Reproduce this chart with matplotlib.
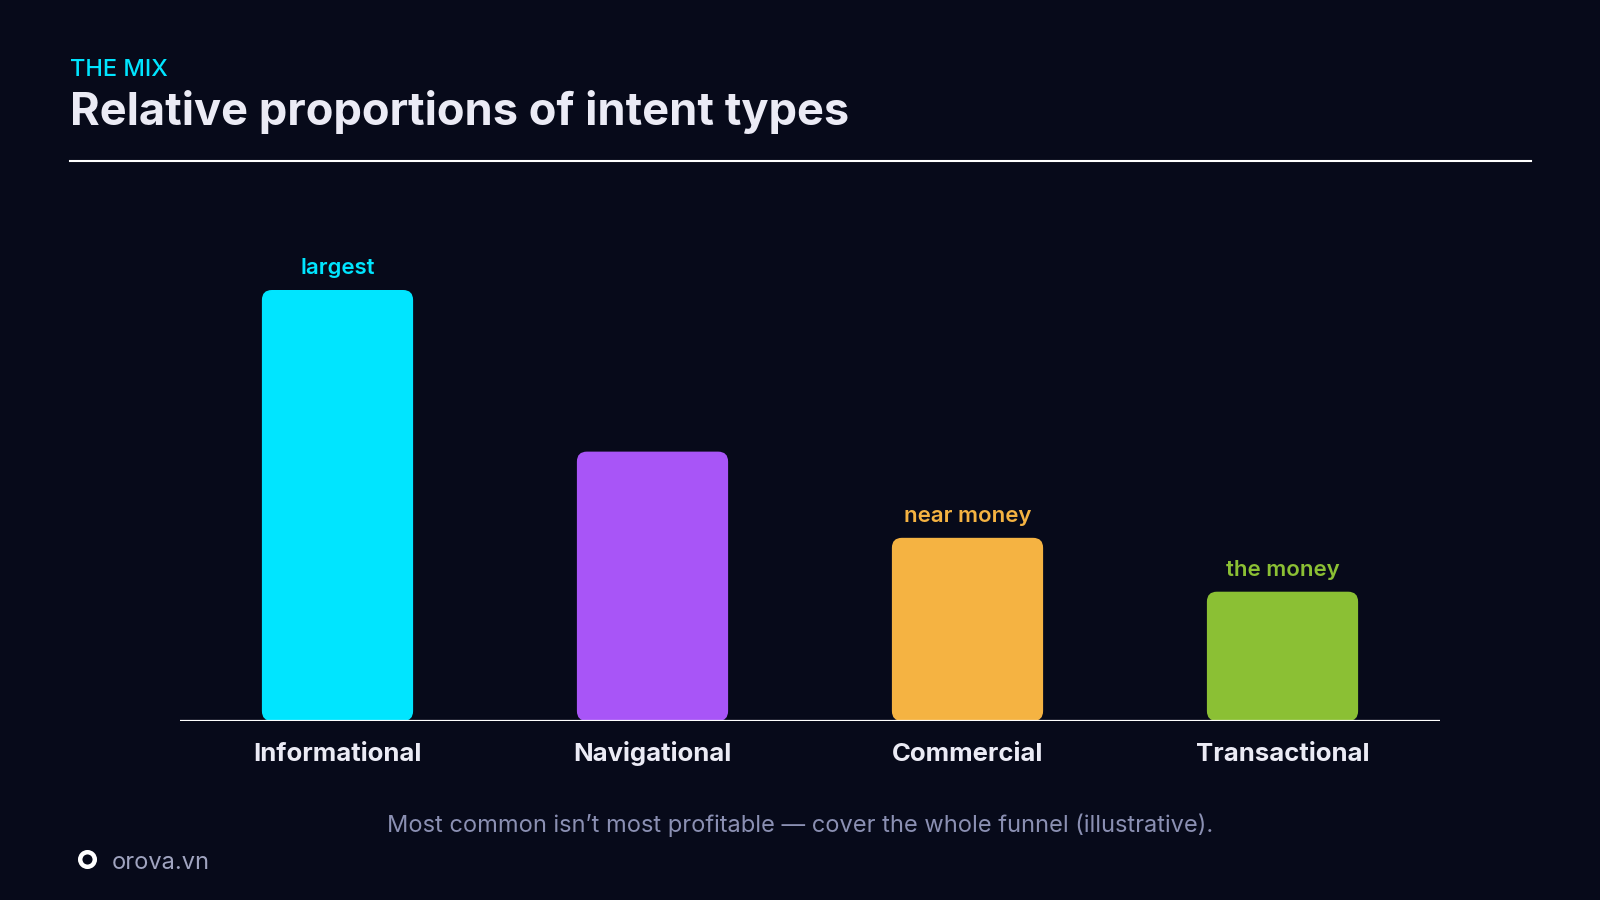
import matplotlib.pyplot as plt
from matplotlib.patches import FancyBboxPatch
from matplotlib.lines import Line2D

# chart data
categories = ["Informational", "Navigational", "Commercial", "Transactional"]
values = [40, 25, 17, 12]
notes = ["largest", "", "near money", "the money"]
colors = ["#00e5ff", "#a855f7", "#f5b342", "#8bc034"]

bg = "#070a1a"
text_light = "#ebebf5"
muted = "#8b90b3"

plt.rcParams['font.family'] = ['Inter', 'DejaVu Sans']

fig = plt.figure(figsize=(16, 9), dpi=100, facecolor=bg)
ax = fig.add_axes([180 / 1600, 1 - 721 / 900, 1260 / 1600, 521 / 900])
ax.set_facecolor(bg)
ymax = max(values) * 521 / 431
ax.set_xlim(-0.5, len(values) - 0.5)
ax.set_ylim(0, ymax)
ax.axis('off')

# rounded bars: work out y/x aspect so the corners stay circular
px_x = (len(values)) / 1260      # x data units per pixel
px_y = ymax / 521                # y data units per pixel
aspect = px_y / px_x
radius_px = 10
width = 0.48
for i, (v, c) in enumerate(zip(values, colors)):
    box = FancyBboxPatch((i - width / 2, 0), width, v,
                         boxstyle=f"round,pad=0,rounding_size={radius_px * px_x}",
                         mutation_aspect=aspect, facecolor=c, edgecolor='none')
    ax.add_patch(box)
    if notes[i]:
        ax.annotate(notes[i], (i, v), xytext=(0, 11.5), textcoords='offset points',
                    ha='center', va='baseline', fontsize=16, fontweight='semibold', color=c)
    ax.annotate(categories[i], (i, 0), xytext=(0, -28.8), textcoords='offset points',
                ha='center', va='baseline', fontsize=18.5, fontweight='bold', color=text_light)

# baseline
ax.axhline(0, color='white', lw=1.6, zorder=5)

# header
fig.text(70 / 1600, 1 - 76 / 900, "THE MIX", fontsize=17, fontweight='medium',
         color="#00e5ff", va='baseline', ha='left')
fig.text(70 / 1600, 1 - 125 / 900, "Relative proportions of intent types", fontsize=32.5,
         fontweight='bold', color=text_light, va='baseline', ha='left')
fig.add_artist(Line2D([70 / 1600, 1531 / 1600], [1 - 161 / 900] * 2, color='white',
                      lw=1.5, transform=fig.transFigure))

# footer
fig.text(0.5, 1 - 832 / 900,
         "Most common isn\u2019t most profitable \u2014 cover the whole funnel (illustrative).",
         fontsize=17, color=muted, ha='center', va='baseline')
fig.add_artist(Line2D([87 / 1600], [1 - 859 / 900], marker='o', markersize=10.5,
                      markeredgewidth=3.2, markerfacecolor=bg, markeredgecolor='white',
                      transform=fig.transFigure))
fig.text(112 / 1600, 1 - 869 / 900, "orova.vn", fontsize=17, color="#a0a4c0",
         ha='left', va='baseline')

fig.savefig("out.png", dpi=100, facecolor=bg)
